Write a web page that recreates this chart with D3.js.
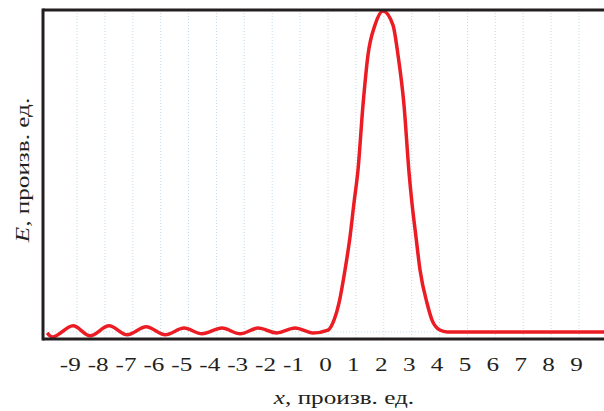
<!DOCTYPE html>
<html>
<head>
<meta charset="utf-8">
<script src="https://cdn.jsdelivr.net/npm/d3@7"></script>
<style>
  body { margin: 0; background: #fff; }
  svg { display: block; }
</style>
</head>
<body>
<svg id="chart" width="604" height="411"></svg>
<script>
// tick values on the x axis
var xTicks = [-9, -8, -7, -6, -5, -4, -3, -2, -1, 0, 1, 2, 3, 4, 5, 6, 7, 8, 9];

// curve (x, E in arbitrary units)
var curveX = [-10.07, -9.89, -9.14, -8.53, -7.85, -7.20, -6.52, -5.84, -5.16, -4.52,
  -3.80, -3.15, -2.51, -1.83, -1.18, -0.54, 0.0, 0.215, 0.394, 0.61, 0.789, 0.932, 1.076,
  1.255, 1.434, 1.685, 1.972, 2.33, 2.51, 2.725, 2.904, 3.01, 3.155, 3.30, 3.55, 3.73,
  4.01, 4.27, 7, 10];
var curveE = [-0.003, -0.016, 0.019, -0.012, 0.019, -0.009, 0.016, -0.009, 0.012, -0.006,
  0.012, -0.006, 0.012, -0.003, 0.012, -0.003, 0.006, 0.037, 0.090, 0.193, 0.296, 0.402, 0.505,
  0.707, 0.863, 0.956, 1.0, 0.956, 0.863, 0.707, 0.498, 0.402, 0.296, 0.193, 0.090, 0.037,
  0.006, 0, 0, 0];

var xTitle = ", произв. ед.";
var yTitle = ", произв. ед.";

var serif = "'Liberation Serif', 'Times New Roman', 'DejaVu Serif', serif";
var stretch = 1.4; // the reference type is set wide

var svg = d3.select("#chart").attr("font-family", serif);
var frame = { left: 43, top: 10, bottom: 339, right: 604 };

var x = d3.scaleLinear().domain([-9, 9]).range([77, 579]);
var y = d3.scaleLinear().domain([-0.022, 1.003]).range([frame.bottom, frame.top]);

// dotted grid
var grid = svg.append("g").attr("class", "grid");
grid.selectAll("line.v")
  .data(xTicks)
  .join("line")
  .attr("class", "v")
  .attr("x1", d => x(d)).attr("x2", d => x(d))
  .attr("y1", frame.top).attr("y2", frame.bottom)
  .attr("stroke", "#c3dcec")
  .attr("stroke-width", 1)
  .attr("stroke-dasharray", "1,2");
grid.append("line")
  .attr("x1", frame.left).attr("x2", frame.right)
  .attr("y1", y(0)).attr("y2", y(0))
  .attr("stroke", "#c3dcec")
  .attr("stroke-dasharray", "1,2");

// curve
var pts = curveX.map((v, i) => [v, curveE[i]]);
var line = d3.line()
  .x(d => x(d[0]))
  .y(d => y(d[1]))
  .curve(d3.curveMonotoneX);

svg.append("path")
  .datum(pts)
  .attr("d", line)
  .attr("fill", "none")
  .attr("stroke", "#ec1c24")
  .attr("stroke-width", 3.5)
  .attr("stroke-linejoin", "round");

// frame: top, left, bottom
var fr = svg.append("g").attr("stroke", "#231f20").attr("stroke-width", 3);
fr.append("line").attr("x1", frame.left).attr("x2", frame.right).attr("y1", frame.top).attr("y2", frame.top);
fr.append("line").attr("x1", frame.left).attr("x2", frame.left).attr("y1", frame.top - 1.5).attr("y2", frame.bottom + 1.5);
fr.append("line").attr("x1", frame.left).attr("x2", frame.right).attr("y1", frame.bottom).attr("y2", frame.bottom);

// tick labels (digit centred near the tick, minus hangs left)
svg.append("g")
  .selectAll("text")
  .data(xTicks)
  .join("text")
  .attr("transform", d => `translate(${x(d) + 3.8},371) scale(${stretch},1)`)
  .attr("text-anchor", "end")
  .attr("font-size", 18)
  .attr("fill", "#231f20")
  .text(d => d < 0 ? "-" + Math.abs(d) : d);

// axis titles
var xt = svg.append("text")
  .attr("transform", `translate(344,404) scale(${stretch},1)`)
  .attr("text-anchor", "middle")
  .attr("font-size", 18)
  .attr("fill", "#231f20");
xt.append("tspan").attr("font-style", "italic").text("x");
xt.append("tspan").text(xTitle);

var yt = svg.append("text")
  .attr("transform", `translate(29,170) rotate(-90) scale(${stretch},1)`)
  .attr("text-anchor", "middle")
  .attr("font-size", 18)
  .attr("fill", "#231f20");
yt.append("tspan").attr("font-style", "italic").text("E");
yt.append("tspan").text(yTitle);
</script>
</body>
</html>
